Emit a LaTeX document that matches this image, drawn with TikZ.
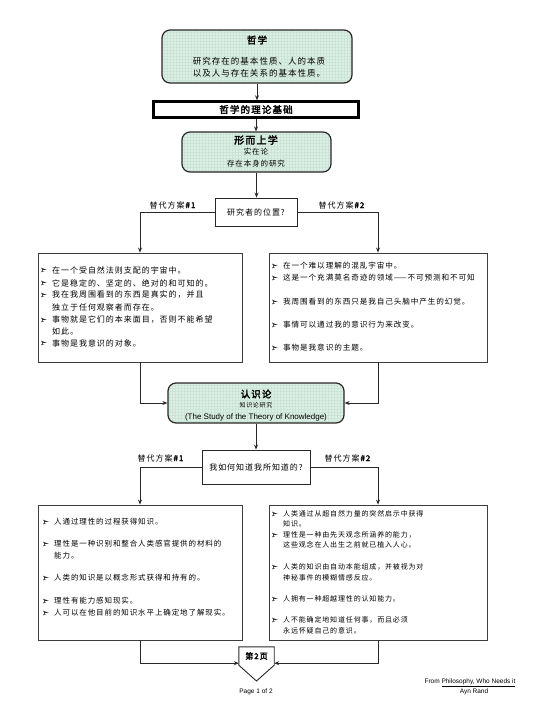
\documentclass[tikz,border=0pt]{standalone}
\usepackage{fontspec}
\setmainfont{Liberation Sans}
\newfontfamily\cjk[LetterSpace=12,AutoFakeBold=2.5]{Noto Sans CJK SC}
\usetikzlibrary{arrows.meta}
\definecolor{hdrfill}{RGB}{220,239,229}
\definecolor{hdrgrid}{RGB}{204,228,215}
\definecolor{linec}{RGB}{40,40,40}
\tikzset{
  hdr/.style={draw=linec, line width=1.2pt, rounded corners=8pt, fill=hdrfill,
    path picture={\draw[hdrgrid, line width=0.3pt] (path picture bounding box.south west) grid[step=3pt] (path picture bounding box.north east);}},
  qbox/.style={draw=linec, line width=0.9pt, fill=white, inner sep=0pt},
  listbox/.style={draw=linec!90, line width=0.9pt, fill=white, inner sep=0pt},
  arr/.style={draw=linec, line width=0.8pt, -{Stealth[length=5pt,width=4pt]}},
  txt/.style={inner sep=0pt, text=black},
  bul/.style={inner sep=0pt, minimum width=6, minimum height=4.6,
    path picture={\fill[black!85] (path picture bounding box.north west) -- (path picture bounding box.east)
      -- (path picture bounding box.south west) -- ([xshift=1.6pt]path picture bounding box.west) -- cycle;
      \draw[white, line width=0.3pt] ([xshift=1.6pt]path picture bounding box.west) -- ([xshift=-0.5pt]path picture bounding box.east);}},
}
\newcommand\bulletlist[5]{%
  \foreach \yy/\bb/\tx [count=\i] in {#5} {
    \node[txt, anchor=west, font=#4] (#1t\i) at (#3,\yy) {\tx};
    \ifnum\bb=1 \node[bul] (#1b\i) at (#2,\yy) {};\fi
  }}
\begin{document}
\begin{tikzpicture}[x=1pt,y=-1pt]
\useasboundingbox (0,0) rectangle (540,710);
\fill[white] (0,0) rectangle (540,710);

% header boxes
\node[hdr, minimum width=190, minimum height=53] (phil) at (257,56.5) {};
\node[txt, font=\cjk\bfseries\fontsize{9.5}{10}\selectfont] (philT) at (257,40) {哲学};
\node[txt, font=\cjk\fontsize{8.5}{10}\selectfont] (philA) at (259,61) {研究存在的基本性质、人的本质};
\node[txt, font=\cjk\fontsize{8.5}{10}\selectfont] (philB) at (259,73) {以及人与存在关系的基本性质。};

\node[draw=black, line width=2.4pt, fill=white, minimum width=205, minimum height=16, inner sep=0pt,
      font=\cjk\bfseries\fontsize{9.5}{10}\selectfont] (bar) at (256,109.5) {哲学的理论基础};

\node[hdr, minimum width=149, minimum height=40] (meta) at (256.5,152) {};
\node[txt, font=\cjk\bfseries\fontsize{10}{11}\selectfont] (metaT) at (256,140) {形而上学};
\node[txt, font=\cjk\fontsize{7.5}{9}\selectfont] (metaA) at (256,152) {实在论};
\node[txt, font=\cjk\fontsize{7.5}{9}\selectfont] (metaB) at (256,164) {存在本身的研究};

\node[qbox, minimum width=82, minimum height=28, font=\cjk\fontsize{8}{9}\selectfont] (q1) at (256,212) {研究者的位置?};

\node[txt, font=\cjk\fontsize{8}{9}\selectfont] (lab1) at (173,205) {替代方案\textbf{\#1}};
\node[txt, font=\cjk\fontsize{8}{9}\selectfont] (lab2) at (342,205) {替代方案\textbf{\#2}};

\node[listbox, minimum width=204, minimum height=109] (L1) at (140,307.5) {};
\node[listbox, minimum width=218, minimum height=109] (R1) at (378,307.5) {};

\bulletlist{la}{44}{52}{\cjk\fontsize{8}{9}\selectfont}{
270/1/{在一个受自然法则支配的宇宙中。},
283/1/{它是稳定的、坚定的、绝对的和可知的。},
295/1/{我在我周围看到的东西是真实的，并且},
307/0/{独立于任何观察者而存在。},
320/1/{事物就是它们的本来面目，否则不能希望},
331/0/{如此。},
343/1/{事物是我意识的对象。}}

\bulletlist{ra}{275}{283}{\cjk\fontsize{7.6}{9}\selectfont}{
266/1/{在一个难以理解的混乱宇宙中。},
278/1/{这是一个充满莫名奇迹的领域——不可预测和不可知},
302/1/{我周围看到的东西只是我自己头脑中产生的幻觉。},
325/1/{事情可以通过我的意识行为来改变。},
348/1/{事物是我意识的主题。}}

\node[hdr, minimum width=176, minimum height=40] (epi) at (256,403) {};
\node[txt, font=\cjk\bfseries\fontsize{9.5}{10}\selectfont] (epiT) at (256,394) {认识论};
\node[txt, font=\cjk\fontsize{6}{7}\selectfont] (epiA) at (256,405) {知识论研究};
\node[txt, font=\fontsize{8}{9}\selectfont] (epiB) at (256,417) {(The Study of the Theory of Knowledge)};

\node[qbox, minimum width=108, minimum height=34, font=\cjk\fontsize{8}{9}\selectfont] (q2) at (256,467) {我如何知道我所知道的?};

\node[txt, font=\cjk\fontsize{8}{9}\selectfont] (lab3) at (161,458) {替代方案\textbf{\#1}};
\node[txt, font=\cjk\fontsize{8}{9}\selectfont] (lab4) at (348,458) {替代方案\textbf{\#2}};

\node[listbox, minimum width=204, minimum height=135] (L2) at (140,572.5) {};
\node[listbox, minimum width=218, minimum height=135] (R2) at (378,572.5) {};

\bulletlist{lb}{46}{54}{\cjk\fontsize{7.5}{9}\selectfont}{
522/1/{人通过理性的过程获得知识。},
544/1/{理性是一种识别和整合人类感官提供的材料的},
556/0/{能力。},
578/1/{人类的知识是以概念形式获得和持有的。},
601/1/{理性有能力感知现实。},
613/1/{人可以在他目前的知识水平上确定地了解现实。}}

\bulletlist{rb}{275}{283}{\cjk\fontsize{7}{8}\selectfont}{
514/1/{人类通过从超自然力量的突然启示中获得},
524/0/{知识。},
535/1/{理性是一种由先天观念所涵养的能力，},
545/0/{这些观念在人出生之前就已植入人心。},
567/1/{人类的知识由自动本能组成，并被视为对},
578/0/{神秘事件的模糊情感反应。},
599/1/{人拥有一种超越理性的认知能力。},
620/1/{人不能确定地知道任何事，而且必须},
631/0/{永远怀疑自己的意识。}}

% off-page connector
\node[inner sep=0pt, minimum width=35, minimum height=18] (pg) at (256.5,656) {};
\coordinate (pgtip) at (256.5,681);
\draw[linec, line width=0.9pt, fill=white] (pg.north west) -- (pg.north east) -- (pg.south east) -- (pgtip) -- (pg.south west) -- cycle;
\node[inner sep=0pt, font=\cjk\bfseries\fontsize{8}{9}\selectfont] (pgT) at (pg.center) {第2页};

% connectors
\draw[arr] (phil.south) -- (phil.south |- bar.north);
\draw[arr] (bar.south) -- (bar.south |- meta.north);
\draw[arr] (meta.south) -- (meta.south |- q1.north);
\draw[arr] (q1.west) -| (L1.north);
\draw[arr] (q1.east) -| (R1.north);
\draw[arr] (L1.south) |- (epi.west);
\draw[arr] (R1.south) |- (epi.east);
\draw[arr] (epi.south) -- (q2.north);
\draw[arr] (q2.west) -| (L2.north);
\draw[arr] (q2.east) -| (R2.north);
\draw[arr] (L2.south) |- ([yshift=2pt]pg.south west);
\draw[arr] (R2.south) |- ([yshift=2pt]pg.south east);

% footer
\node[txt, font=\fontsize{6.5}{7}\selectfont] (page) at (256,692) {Page 1 of 2};
\node[txt, font=\fontsize{6.5}{7}\selectfont] (src) at (470,683) {From \underline{Philosophy, Who Needs it}};
\node[txt, font=\fontsize{6.5}{7}\selectfont] (auth) at (474,692) {Ayn Rand};
\end{tikzpicture}
\end{document}
